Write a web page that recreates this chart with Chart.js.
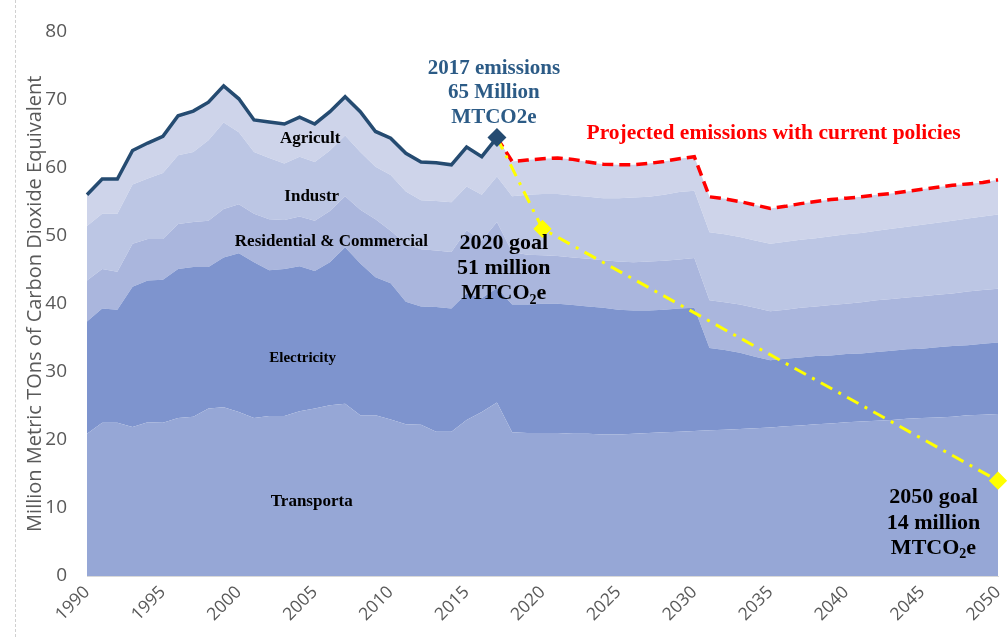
<!DOCTYPE html>
<html>
<head>
<meta charset="utf-8">
<script src="https://cdn.jsdelivr.net/npm/chart.js@4.4.0/dist/chart.umd.min.js"></script>
<style>
  html, body { margin: 0; padding: 0; background: #fff; overflow: hidden; }
  #wrap { position: relative; width: 1008px; height: 637px; }
  #wrap::before { content: ''; position: absolute; left: 15px; top: 0; bottom: 0; border-left: 1px dashed #d0d0d0; }
</style>
</head>
<body>
<div id="wrap"><canvas id="chart" width="1008" height="637"></canvas></div>
<script>
// ============================================================
// State GHG emissions by sector, 1990-2017 actual + projection to 2050
// ============================================================

const years = [];
for (let y = 1990; y <= 2050; y++) years.push(y);

// cumulative tops of each stacked sector (MMT CO2e), one value per year
const transportTop = [
  20.9, 22.5, 22.5, 21.9, 22.6, 22.5, 23.2, 23.4, 24.6, 24.8,
  24.1, 23.2, 23.5, 23.5, 24.2, 24.6, 25.1, 25.3, 23.6, 23.6,
  23.0, 22.3, 22.2, 21.2, 21.2, 22.9, 24.1, 25.5, 21.1, 21.0,
  21.0, 21.0, 20.9, 20.9, 20.8, 20.8, 20.9, 21.0, 21.1, 21.2,
  21.3, 21.4, 21.5, 21.6, 21.7, 21.8, 22.0, 22.1, 22.3, 22.4,
  22.6, 22.7, 22.8, 22.9, 23.1, 23.2, 23.3, 23.4, 23.6, 23.7,
  23.8
];
const electricityTop = [
  37.4, 39.3, 39.1, 42.5, 43.4, 43.5, 45.1, 45.4, 45.4, 46.8,
  47.4, 46.1, 44.9, 45.1, 45.5, 44.8, 46.1, 48.3, 45.9, 43.9,
  43.0, 40.3, 39.6, 39.5, 39.3, 41.5, 40.8, 42.3, 39.9, 39.9,
  40.0, 40.0, 39.8, 39.6, 39.4, 39.1, 39.0, 39.0, 39.1, 39.3,
  39.4, 33.5, 33.2, 32.8, 32.2, 31.7, 31.9, 32.1, 32.3, 32.4,
  32.6, 32.7, 32.9, 33.1, 33.3, 33.4, 33.6, 33.8, 33.9, 34.1,
  34.3
];
const residentialTop = [
  43.4, 45.1, 44.7, 48.8, 49.5, 49.5, 51.7, 52.0, 52.2, 53.9,
  54.6, 53.2, 52.4, 52.3, 52.8, 52.2, 53.6, 55.8, 53.8, 52.4,
  50.7, 48.8, 48.0, 47.8, 47.6, 50.8, 49.3, 52.0, 47.6, 47.2,
  47.1, 47.0, 46.8, 46.6, 46.4, 46.2, 46.1, 46.2, 46.3, 46.5,
  46.7, 40.5, 40.2, 39.9, 39.4, 38.9, 39.1, 39.4, 39.6, 39.8,
  40.0, 40.2, 40.5, 40.7, 40.9, 41.1, 41.3, 41.5, 41.8, 42.0,
  42.2
];
const industryTop = [
  51.4, 53.2, 53.2, 57.5, 58.4, 59.2, 61.8, 62.3, 64.0, 66.6,
  65.2, 62.3, 61.4, 60.6, 61.6, 60.8, 62.5, 64.7, 62.3, 60.1,
  58.9, 56.5, 55.2, 55.1, 54.9, 57.2, 56.0, 58.7, 55.8, 56.0,
  56.1, 56.1, 55.9, 55.7, 55.5, 55.5, 55.6, 55.7, 56.0, 56.4,
  56.6, 50.5, 50.2, 49.8, 49.3, 48.8, 49.1, 49.4, 49.6, 49.9,
  50.2, 50.4, 50.7, 51.0, 51.3, 51.6, 51.9, 52.2, 52.5, 52.8,
  53.1
];
// total = top of agriculture
const totalEmissions = [
  56.0, 58.3, 58.3, 62.5, 63.6, 64.6, 67.6, 68.3, 69.6, 72.0,
  70.1, 67.0, 66.7, 66.4, 67.4, 66.4, 68.2, 70.4, 68.2, 65.3,
  64.3, 62.1, 60.8, 60.7, 60.4, 63.0, 61.6, 64.4, 60.9, 61.1,
  61.3, 61.4, 61.2, 60.8, 60.5, 60.4, 60.4, 60.6, 60.9, 61.3,
  61.6, 55.7, 55.4, 55.0, 54.5, 54.0, 54.3, 54.7, 55.0, 55.3,
  55.5, 55.7, 56.0, 56.2, 56.5, 56.8, 57.1, 57.4, 57.6, 57.8,
  58.2
];
const lastActualYear = 2017;

const goalYears = [2017, 2020, 2050];
const goalValues = [64.4, 51, 14];

const yTicks = [0, 10, 20, 30, 40, 50, 60, 70, 80];

// colors
const C = {
  transport: '#96a7d6', electricity: '#7e94ce', residential: '#aab6dd',
  industry: '#bcc6e4', agriculture: '#ced4ea',
  actual: '#254b71', projected: '#ff0000', goal: '#ffff00',
  axis: '#595959', note: '#2c5b86'
};

const SERIF = '"Liberation Serif", "Times New Roman", serif';
const SANS = '"Open Sans", "Noto Sans", sans-serif';

// wanted plot box (px)
const PLOT = { left: 87, top: 26, right: 1005, bottom: 576 };

// text drawn on the plot, anchored by year / value
const notes = [
  { lines: ['Agricult'], year: 2004.7, value: 64.3, size: 17, color: '#000' },
  { lines: ['Industr'], year: 2004.8, value: 55.75, size: 17, color: '#000' },
  { lines: ['Residential & Commercial'], year: 2006.1, value: 49.1, size: 17, color: '#000' },
  { lines: ['Electricity'], year: 2004.2, value: 32.0, size: 15, color: '#000' },
  { lines: ['Transporta'], year: 2004.8, value: 10.9, size: 17, color: '#000' },
  { lines: ['2017 emissions', '65 Million', 'MTCO2e'], year: 2016.8, value: 74.6, size: 21, lh: 24.5, color: C.note },
  { lines: ['Projected emissions with current policies'], year: 2022.9, value: 65.0, size: 21.5, color: C.projected, align: 'left' },
  { lines: ['2020 goal', '51 million', 'MTCO₂e'], year: 2017.45, value: 48.8, size: 22, lh: 25, color: '#000' },
  { lines: ['2050 goal', '14 million', 'MTCO₂e'], year: 2045.75, value: 11.5, size: 22, lh: 25.5, color: '#000' },
];

function drawLine(ctx, text, x, y, size, align) {
  // split out subscript digits so they can be drawn small and low
  const parts = text.split(/([₀-₉])/).filter(s => s.length);
  const big = `bold ${size}px ${SERIF}`;
  const small = `bold ${Math.round(size * 0.65)}px ${SERIF}`;
  const sub = s => /[₀-₉]/.test(s);
  const toDigit = s => String.fromCharCode(s.charCodeAt(0) - 0x2080 + 48);
  let total = 0;
  parts.forEach(p => {
    ctx.font = sub(p) ? small : big;
    total += ctx.measureText(sub(p) ? toDigit(p) : p).width;
  });
  let cx = align === 'left' ? x : x - total / 2;
  ctx.textAlign = 'left';
  parts.forEach(p => {
    ctx.font = sub(p) ? small : big;
    const t = sub(p) ? toDigit(p) : p;
    ctx.fillText(t, cx, sub(p) ? y + size * 0.28 : y);
    cx += ctx.measureText(t).width;
  });
}

const notesPlugin = {
  id: 'notes',
  afterDatasetsDraw(chart) {
    const { ctx, scales: { x, y } } = chart;
    ctx.save();
    ctx.textBaseline = 'middle';
    notes.forEach(n => {
      const px = x.getPixelForValue(n.year - years[0]);
      const py = y.getPixelForValue(n.value);
      n.lines.forEach((line, i) => {
        ctx.fillStyle = n.color;
        drawLine(ctx, line, px, py + i * (n.lh || 0), n.size, n.align);
      });
    });
    ctx.restore();
  }
};

const actualLine = totalEmissions.map((v, i) => years[i] <= lastActualYear ? v : null);
const projectedLine = totalEmissions.map((v, i) => years[i] >= lastActualYear ? v : null);
const goalLine = years.map(yr => {
  const k = goalYears.indexOf(yr);
  return k >= 0 ? goalValues[k] : null;
});

function area(label, data, color, fill) {
  return {
    label, data, fill, backgroundColor: color, borderWidth: 0,
    pointRadius: 0, tension: 0, order: 10
  };
}

const chart = new Chart(document.getElementById('chart'), {
  type: 'line',
  data: {
    labels: years.map(String),
    datasets: [
      area('Transportation', transportTop, C.transport, 'origin'),
      area('Electricity', electricityTop, C.electricity, '-1'),
      area('Residential & Commercial', residentialTop, C.residential, '-1'),
      area('Industry', industryTop, C.industry, '-1'),
      area('Agriculture', totalEmissions, C.agriculture, '-1'),
      {
        label: 'Projected', data: projectedLine, borderColor: C.projected, borderWidth: 3.5,
        borderDash: [11, 6], pointRadius: 0, fill: false, tension: 0, order: 3
      },
      {
        label: 'Goal', data: goalLine, borderColor: C.goal, borderWidth: 3,
        borderDash: [13, 7, 3, 7], spanGaps: true, fill: false, tension: 0,
        pointStyle: 'rectRot', backgroundColor: C.goal, pointBorderColor: C.goal,
        pointRadius: ctx => years[ctx.dataIndex] === lastActualYear ? 0 : 7, order: 2
      },
      {
        label: 'Actual', data: actualLine, borderColor: C.actual, borderWidth: 3.5,
        fill: false, tension: 0, pointStyle: 'rectRot', backgroundColor: C.actual,
        pointBorderColor: C.actual,
        pointRadius: ctx => years[ctx.dataIndex] === lastActualYear ? 7 : 0, order: 1
      }
    ]
  },
  options: {
    responsive: false,
    animation: false,
    layout: { padding: { top: 14, right: 3, left: 0, bottom: 0 } },
    plugins: { legend: { display: false }, tooltip: { enabled: false } },
    scales: {
      x: {
        grid: { display: false, drawTicks: false },
        border: { display: true, color: '#d9d9d9' },
        ticks: {
          autoSkip: false, maxRotation: 45, minRotation: 45, padding: 6,
          color: C.axis, font: { family: SANS, size: 17.5 },
          callback: (v, i) => years[i] % 5 === 0 ? String(years[i]) : ''
        },
        afterFit: s => { s.height = 61; s.paddingLeft = 0; s.paddingRight = 0; }
      },
      y: {
        min: 0, max: 80,
        afterBuildTicks: s => { s.ticks = yTicks.map(v => ({ value: v })); },
        grid: { display: false, drawTicks: false },
        border: { display: false },
        ticks: { color: C.axis, font: { family: SANS, size: 19 }, padding: 20 },
        title: {
          display: true, text: 'Million Metric TOns of Carbon Dioxide Equivalent',
          color: C.axis, font: { family: SANS, size: 20 }, padding: { top: 23, bottom: 0 }
        },
        afterFit: s => { s.width = 87; }
      }
    }
  },
  plugins: [notesPlugin]
});

// nudge the layout padding until the plot box sits where the reference has it
for (let k = 0; k < 3; k++) {
  const a = chart.chartArea, p = chart.options.layout.padding;
  p.top = Math.max(0, p.top + PLOT.top - a.top);
  p.right = Math.max(0, p.right + a.right - PLOT.right);
  p.bottom = Math.max(0, p.bottom + a.bottom - PLOT.bottom);
  chart.update();
}
</script>
</body>
</html>
